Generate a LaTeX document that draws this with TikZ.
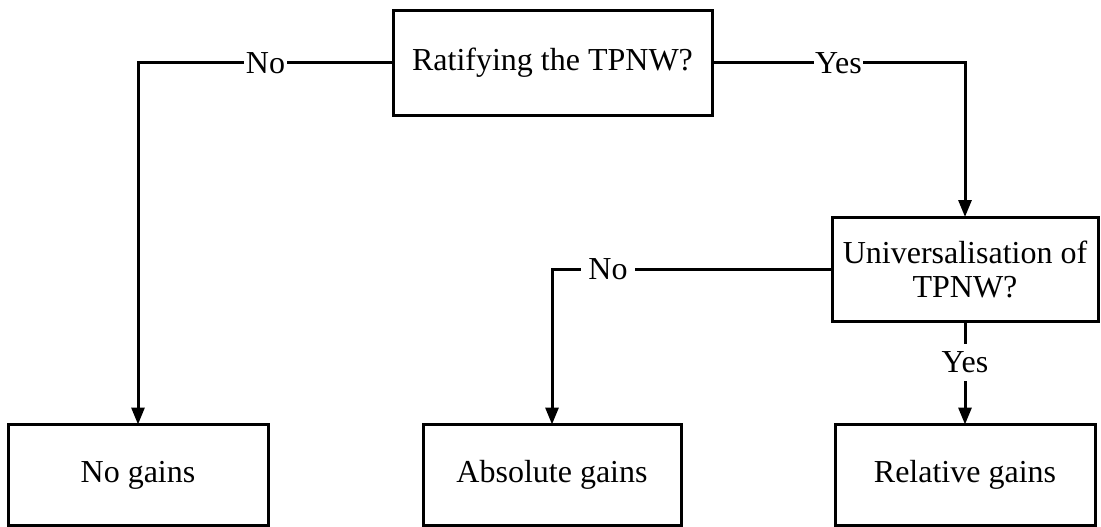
\documentclass[tikz,border=0pt]{standalone}
\usepackage{fontspec}
\setmainfont{Liberation Serif}
\usetikzlibrary{arrows.meta}
\tikzset{
  box/.style={draw, line width=3pt, inner sep=0pt, outer sep=0pt, align=center,
    font=\fontsize{32}{34}\selectfont},
  conn/.style={line width=3pt, -{Triangle[length=17pt,width=13pt]}},
  lbl/.style={fill=white, inner xsep=1.5pt, inner ysep=8pt,
    font=\fontsize{32}{34}\selectfont}
}
\begin{document}
\begin{tikzpicture}[x=1pt,y=-1pt]
\useasboundingbox (0,0) rectangle (1101,527);
\node[box, minimum width=319pt, minimum height=104pt] (top) at (552.5,63) {Ratifying the TPNW?};
\node[box, minimum width=266pt, minimum height=104pt] (uni) at (965,269) {Universalisation of\\TPNW?};
\node[box, minimum width=260pt, minimum height=101pt] (nog) at (138,475) {No gains};
\node[box, minimum width=258pt, minimum height=101pt] (abs) at (552,475) {Absolute gains};
\node[box, minimum width=260pt, minimum height=101pt] (rel) at (965,475) {Relative gains};
\draw[conn] (top.west) -| node[lbl, pos=0.25] {No} (nog.north);
\draw[conn] (top.east) -| node[lbl, pos=0.25] {Yes} (uni.north);
\draw[conn] (uni.west) -| node[lbl, pos=0.4, inner xsep=7pt] {No} (abs.north);
\draw[conn] (uni.south) -- node[lbl, pos=0.4] {Yes} (rel.north);
\end{tikzpicture}
\end{document}
